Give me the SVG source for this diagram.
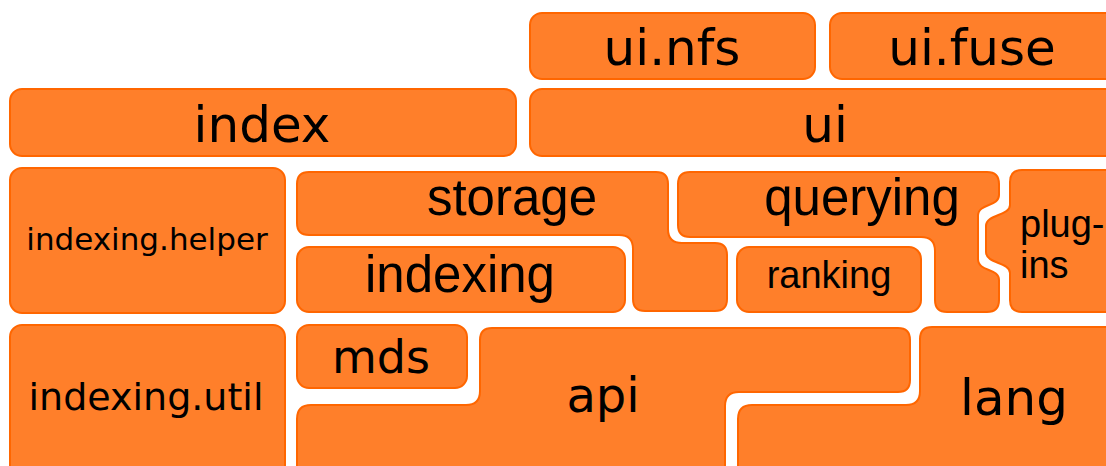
<svg xmlns="http://www.w3.org/2000/svg" width="1106" height="466" viewBox="0 0 1106 466">
<style>
.b{fill:#ff7f2a;stroke:#ff6600;stroke-width:2}
.d{font-family:"DejaVu Sans",sans-serif;fill:#000;text-anchor:middle}
.l{font-family:"Liberation Sans",Arial,sans-serif;fill:#000;text-anchor:middle}
.s{font-family:"Liberation Sans",Arial,sans-serif;fill:#000;text-anchor:start}
</style>
<rect width="1106" height="466" fill="#fff"/>
<g id="ui_nfs"><rect class="b" x="530" y="13" width="285" height="66" rx="12"/><text class="d" x="672" y="65" font-size="50">ui.nfs</text></g>
<g id="ui_fuse"><rect class="b" x="830" y="13" width="290" height="66" rx="12"/><text class="d" x="972" y="65" font-size="50">ui.fuse</text></g>
<g id="index"><rect class="b" x="10" y="89" width="506" height="67" rx="12"/><text class="d" x="262" y="142" font-size="50">index</text></g>
<g id="ui"><rect class="b" x="530" y="89" width="590" height="67" rx="12"/><text class="d" x="825" y="142" font-size="50">ui</text></g>
<g id="indexing_helper"><rect class="b" x="10" y="168" width="275" height="145" rx="12"/><text class="d" x="147" y="250" font-size="31">indexing.helper</text></g>
<g id="indexing_util"><rect class="b" x="10" y="325" width="275" height="160" rx="12"/><text class="d" x="146" y="410" font-size="38">indexing.util</text></g>
<g id="storage"><path class="b" d="M309,172 H656 Q668,172 668,184 V229 Q668,243 682,243 H715 Q727,243 727,255 V299 Q727,311 715,311 H645 Q633,311 633,299 V249 Q633,235 619,235 H309 Q297,235 297,223 V184 Q297,172 309,172 Z"/><text class="l" x="512" y="215" font-size="51">storage</text></g>
<g id="indexing"><rect class="b" x="297" y="247" width="328" height="65" rx="12"/><text class="l" x="460" y="292" font-size="51">indexing</text></g>
<g id="querying"><path class="b" d="M690,172 H987 Q999,172 999,184 V195 C999,207 978,203 978,216 V259 C978,272 999,268 999,280 V300 Q999,312 987,312 H947 Q935,312 935,300 V251 Q935,237 921,237 H690 Q678,237 678,225 V184 Q678,172 690,172 Z"/><text class="l" x="862" y="215" font-size="51">querying</text></g>
<g id="ranking"><rect class="b" x="737" y="247" width="184" height="65" rx="12"/><text class="l" x="829" y="288" font-size="38">ranking</text></g>
<g id="plugins"><path class="b" d="M1022,170 H1120 V312 H1022 Q1010,312 1010,300 V273 C1010,262 986,264 986,252 V226 C986,214 1010,216 1010,205 V182 Q1010,170 1022,170 Z"/><text class="s" x="1020" y="237" font-size="38">plug-</text><text class="s" x="1020" y="278" font-size="38">ins</text></g>
<g id="mds"><rect class="b" x="297" y="325" width="170" height="63" rx="12"/><text class="d" x="381" y="373" font-size="46">mds</text></g>
<g id="api"><path class="b" d="M492,328 H898 Q910,328 910,340 V380 Q910,392 898,392 H739 Q725,392 725,406 V480 H297 V419 Q297,405 311,405 H466 Q480,405 480,391 V340 Q480,328 492,328 Z"/><text class="d" x="603" y="412" font-size="48">api</text></g>
<g id="lang"><path class="b" d="M932,327 H1120 V480 H738 V419 Q738,405 752,405 H906 Q920,405 920,391 V339 Q920,327 932,327 Z"/><text class="d" x="1014" y="415" font-size="50">lang</text></g>
<g id="connectors"></g>
</svg>
